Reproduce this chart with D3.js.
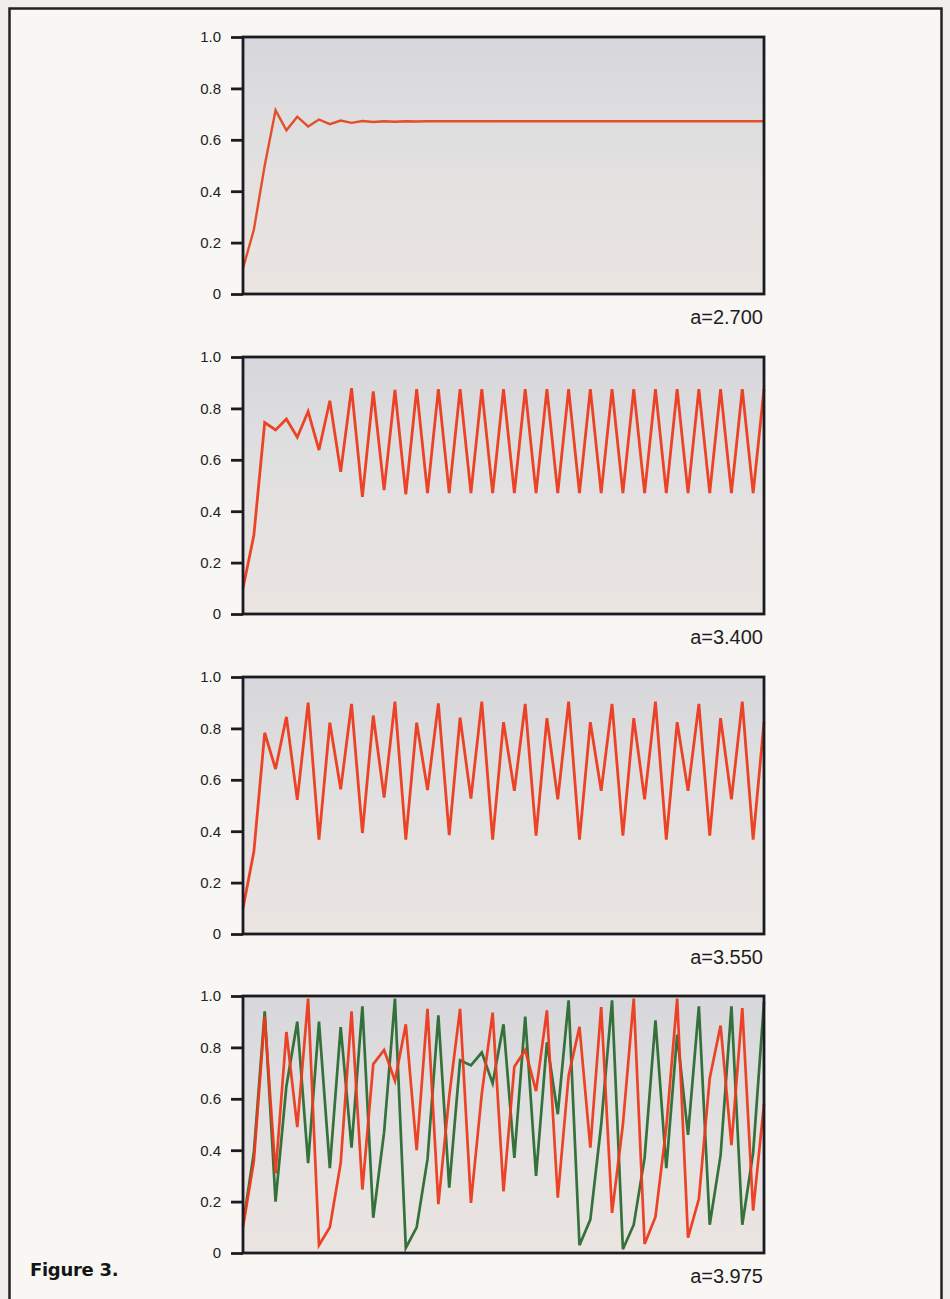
<!DOCTYPE html>
<html>
<head>
<meta charset="utf-8">
<script src="https://cdn.jsdelivr.net/npm/d3@7"></script>
<style>
  html, body { margin: 0; padding: 0; background: #efeeec; }
  svg { display: block; font-family: "Liberation Sans", Arial, sans-serif; }
</style>
</head>
<body>
<div id="chart"></div>
<script>
// iterates x(n) for each growth rate a, n = 0..48
const a2700 = [0.1, 0.25, 0.5, 0.715, 0.637, 0.69, 0.652, 0.679, 0.661, 0.675,
  0.666, 0.673, 0.669, 0.672, 0.67, 0.672, 0.671,
  0.672, 0.672, 0.672, 0.672, 0.672, 0.672, 0.672, 0.672,
  0.672, 0.672, 0.672, 0.672, 0.672, 0.672, 0.672, 0.672,
  0.672, 0.672, 0.672, 0.672, 0.672, 0.672, 0.672, 0.672,
  0.672, 0.672, 0.672, 0.672, 0.672, 0.672, 0.672, 0.672];

const a3400 = [0.1, 0.306, 0.745, 0.716, 0.759, 0.688, 0.788, 0.638, 0.83, 0.553,
  0.879, 0.456, 0.866, 0.482, 0.872, 0.466,
  0.875, 0.47, 0.875, 0.47, 0.875, 0.47, 0.875, 0.47,
  0.875, 0.47, 0.875, 0.47, 0.875, 0.47, 0.875, 0.47,
  0.875, 0.47, 0.875, 0.47, 0.875, 0.47, 0.875, 0.47,
  0.875, 0.47, 0.875, 0.47, 0.875, 0.47, 0.875, 0.47, 0.875];

const a3550 = [0.1, 0.32, 0.783, 0.642, 0.845, 0.522, 0.9, 0.367, 0.822, 0.563,
  0.895, 0.393, 0.85, 0.531,
  0.904, 0.367, 0.822, 0.56, 0.897, 0.385, 0.842, 0.527,
  0.904, 0.367, 0.824, 0.557, 0.895, 0.383, 0.84, 0.524,
  0.904, 0.367, 0.824, 0.557, 0.895, 0.383, 0.84, 0.524,
  0.904, 0.367, 0.824, 0.557, 0.895, 0.383, 0.84, 0.524,
  0.904, 0.367, 0.824];

// two runs with slightly different starting values
const a3975red = [0.1, 0.358, 0.92, 0.31, 0.86, 0.49, 0.99, 0.03, 0.1, 0.35,
  0.94, 0.247, 0.735, 0.79, 0.67, 0.89, 0.4, 0.95, 0.19, 0.61,
  0.95, 0.195, 0.62, 0.935, 0.24, 0.725, 0.79, 0.63, 0.944, 0.215,
  0.69, 0.88, 0.41, 0.957, 0.156, 0.5, 0.99, 0.035, 0.14, 0.49,
  0.99, 0.06, 0.21, 0.68, 0.885, 0.42, 0.953, 0.165, 0.58];

const a3975green = [0.11, 0.39, 0.94, 0.2, 0.65, 0.9, 0.35, 0.9, 0.33, 0.879,
  0.41, 0.96, 0.137, 0.47, 0.99, 0.02, 0.1, 0.365, 0.925, 0.254,
  0.75, 0.73, 0.78, 0.66, 0.89, 0.37, 0.92, 0.3, 0.82, 0.54,
  0.983, 0.03, 0.13, 0.5, 0.983, 0.015, 0.11, 0.37, 0.905, 0.33,
  0.85, 0.46, 0.96, 0.11, 0.38, 0.96, 0.11, 0.39, 0.977];

const panelLabels = ["a=2.700", "a=3.400", "a=3.550", "a=3.975"];
const yTicks = [0, 0.2, 0.4, 0.6, 0.8, 1.0];
const yTickLabels = ["0", "0.2", "0.4", "0.6", "0.8", "1.0"];

const RED = "#ec3a1c", GREEN = "#2b6a30";

const panels = [
  { label: panelLabels[0], series: [{ values: a2700, color: "#e4461d", w: 2.4 }] },
  { label: panelLabels[1], series: [{ values: a3400, color: RED, w: 2.8 }] },
  { label: panelLabels[2], series: [{ values: a3550, color: RED, w: 2.8 }] },
  { label: panelLabels[3], series: [{ values: a3975green, color: GREEN, w: 2.7 },
                                    { values: a3975red, color: RED, w: 2.7 }] }
];

const width = 950, height = 1299;
const plotLeft = 243, plotRight = 764, plotH = 257;
const tops = [37, 357, 677, 996];

const svg = d3.select("#chart").append("svg")
  .attr("width", width)
  .attr("height", height);

// page frame like the scanned page
svg.append("rect")
  .attr("x", 9.5).attr("y", 8.5)
  .attr("width", 932).attr("height", 1310)
  .attr("fill", "#f8f7f4")
  .attr("stroke", "#222")
  .attr("stroke-width", 2.5);

const defs = svg.append("defs");
const grad = defs.append("linearGradient")
  .attr("id", "plotbg").attr("x1", 0).attr("y1", 0).attr("x2", 0).attr("y2", 1);
grad.append("stop").attr("offset", "0%").attr("stop-color", "#d7d7db");
grad.append("stop").attr("offset", "40%").attr("stop-color", "#e0dfe0");
grad.append("stop").attr("offset", "100%").attr("stop-color", "#ebe5e1");

const x = d3.scaleLinear().domain([0, 48]).range([plotLeft, plotRight]);

panels.forEach(function(p, i) {
  const top = tops[i];
  const y = d3.scaleLinear().domain([0, 1]).range([top + plotH, top]);
  const g = svg.append("g");

  g.append("rect")
    .attr("x", plotLeft).attr("y", top)
    .attr("width", plotRight - plotLeft).attr("height", plotH)
    .attr("fill", "url(#plotbg)");

  const line = d3.line()
    .x(function(d, j) { return x(j); })
    .y(function(d) { return y(d); });

  p.series.forEach(function(s) {
    g.append("path")
      .datum(s.values)
      .attr("d", line)
      .attr("fill", "none")
      .attr("stroke", s.color)
      .attr("stroke-width", s.w)
      .attr("stroke-linejoin", "miter")
      .attr("stroke-opacity", 0.95);
  });

  g.append("rect")
    .attr("x", plotLeft).attr("y", top)
    .attr("width", plotRight - plotLeft).attr("height", plotH)
    .attr("fill", "none")
    .attr("stroke", "#1c1a22")
    .attr("stroke-width", 2.8);

  const axis = d3.axisLeft(y)
    .tickValues(yTicks)
    .tickFormat(function(d, k) { return yTickLabels[k]; })
    .tickSize(12)
    .tickPadding(10);

  const ax = g.append("g")
    .attr("transform", "translate(" + plotLeft + ",0)")
    .call(axis);
  ax.select(".domain").remove();
  ax.selectAll(".tick line").attr("stroke", "#1c1a22").attr("stroke-width", 2.8);
  ax.selectAll(".tick text")
    .attr("fill", "#222")
    .style("font-size", "15px")
    .style("font-family", "'Liberation Sans', Arial, sans-serif");

  g.append("text")
    .attr("x", plotRight - 1)
    .attr("y", top + plotH + 30)
    .attr("text-anchor", "end")
    .attr("fill", "#1e1e1e")
    .style("font-size", "20px")
    .text(p.label);
});

svg.append("text")
  .attr("x", 30)
  .attr("y", 1276)
  .attr("fill", "#151515")
  .style("font-size", "18px")
  .style("font-weight", "900")
  .style("font-family", "'DejaVu Sans', 'Liberation Sans', sans-serif")
  .style("letter-spacing", "-0.3px")
  .text("Figure 3.");
</script>
</body>
</html>
